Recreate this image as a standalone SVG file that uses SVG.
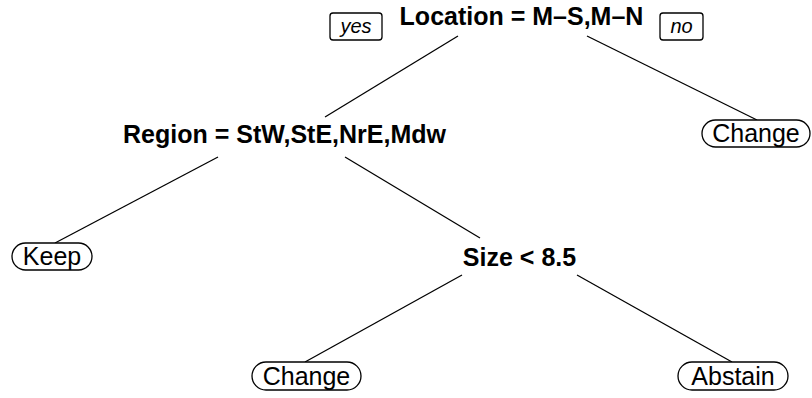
<svg xmlns="http://www.w3.org/2000/svg" width="812" height="398" viewBox="0 0 812 398">
<style>
.split{font-family:"Liberation Sans",Arial,sans-serif;font-size:25px;font-weight:bold;fill:#000;text-anchor:middle}
.leaf{font-family:"Liberation Sans",Arial,sans-serif;font-size:25px;fill:#000;text-anchor:middle}
.lab{font-family:"Liberation Sans",Arial,sans-serif;font-size:20px;font-style:italic;fill:#000;text-anchor:middle}
.box{fill:#fff;stroke:#000;stroke-width:1.3}
.edge{stroke:#000;stroke-width:1.3;fill:none}
</style>
<rect width="812" height="398" fill="#fff"/>
<g id="connectors">
<line class="edge" x1="458" y1="36" x2="325" y2="117"/>
<line class="edge" x1="587" y1="36" x2="757" y2="120"/>
<line class="edge" x1="218" y1="157" x2="55" y2="243"/>
<line class="edge" x1="345" y1="157" x2="480" y2="238"/>
<line class="edge" x1="462" y1="275" x2="305" y2="362"/>
<line class="edge" x1="577" y1="275" x2="732" y2="362"/>
</g>
<g id="n1">
<text class="split" x="521.5" y="25">Location = M–S,M–N</text>
<rect class="box" x="330" y="13" width="52" height="27" rx="3"/>
<text class="lab" x="356" y="33">yes</text>
<rect class="box" x="660" y="13" width="43" height="27" rx="3"/>
<text class="lab" x="681.5" y="33">no</text>
</g>
<g id="n2">
<text class="split" x="284.5" y="143">Region = StW,StE,NrE,Mdw</text>
</g>
<g id="n3">
<rect class="box" x="702" y="120" width="108" height="27" rx="13.5"/>
<text class="leaf" x="756" y="142">Change</text>
</g>
<g id="n4">
<rect class="box" x="12" y="243" width="80" height="27" rx="13.5"/>
<text class="leaf" x="52" y="265">Keep</text>
</g>
<g id="n5">
<text class="split" x="519.5" y="266">Size &lt; 8.5</text>
</g>
<g id="n6">
<rect class="box" x="252" y="362" width="109" height="28" rx="14"/>
<text class="leaf" x="306.5" y="385">Change</text>
</g>
<g id="n7">
<rect class="box" x="678" y="362" width="110" height="28" rx="14"/>
<text class="leaf" x="733" y="385">Abstain</text>
</g>
</svg>
